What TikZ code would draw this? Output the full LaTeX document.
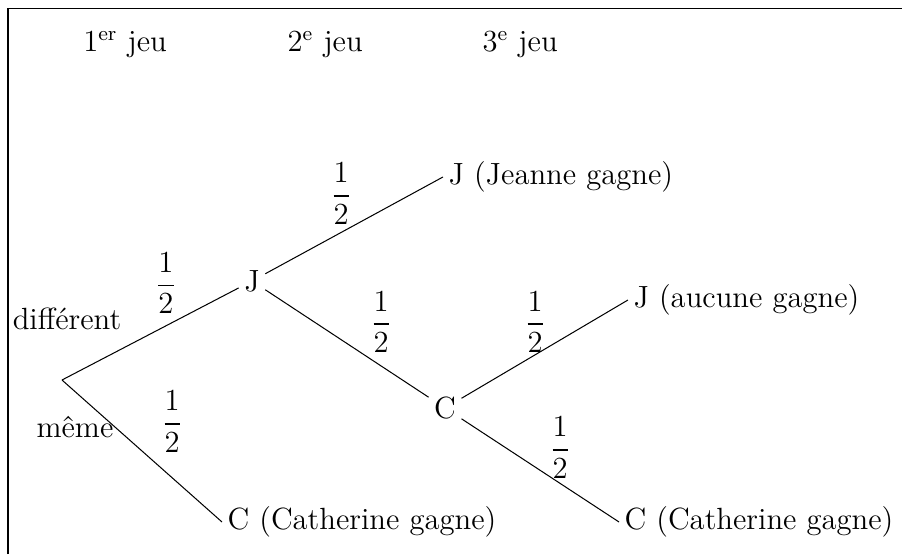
\documentclass[tikz,border=0pt,12pt]{standalone}
\usepackage{amsmath}
\usetikzlibrary{calc}
\def\half{$\dfrac{1}{2}$}

\begin{document}
\begin{tikzpicture}[auto,inner sep=2pt]
\useasboundingbox (0,0) rectangle (12.4,7.616);
\draw (0.11,0) -- (0.11,7.5) -- (12.4,7.5);
% en-tetes
\node (t1) at (1.72,7.01) {1\textsuperscript{er} jeu};
\node (t2) at (4.47,7.01) {2\textsuperscript{e} jeu};
\node (t3) at (7.15,7.01) {3\textsuperscript{e} jeu};
% arbre
\coordinate (root) at (0.852,2.392);
\node (dif) at (0.921,3.231) {diff\'erent};
\node (meme) at (1.031,1.739) {m\^eme};
\node (j1) at (3.464,3.753) {J};
\node[anchor=west] (c1) at (3.052,0.440) {C (Catherine gagne)};
\node[anchor=west] (j2) at (6.090,5.183) {J (Jeanne gagne)};
\node (c2) at (6.118,2.007) {C};
\node[anchor=west] (j3) at (8.633,3.492) {J (aucune gagne)};
\node[anchor=west] (c3) at (8.510,0.440) {C (Catherine gagne)};
\draw (root) -- (j1);
\draw (root) -- (c1.west);
\draw (j1) -- (j2.west);
\draw (j1) -- (c2);
\draw (c2) -- (j3.west);
\draw (c2) -- (c3.west);
% probabilites
\node (p1) at (2.282,3.725) {\half};
\node (p2) at (2.365,1.815) {\half};
\node (p3) at (4.688,4.949) {\half};
\node (p4) at (5.238,3.189) {\half};
\node (p5) at (7.355,3.189) {\half};
\node (p6) at (7.699,1.458) {\half};
\end{tikzpicture}
\end{document}
